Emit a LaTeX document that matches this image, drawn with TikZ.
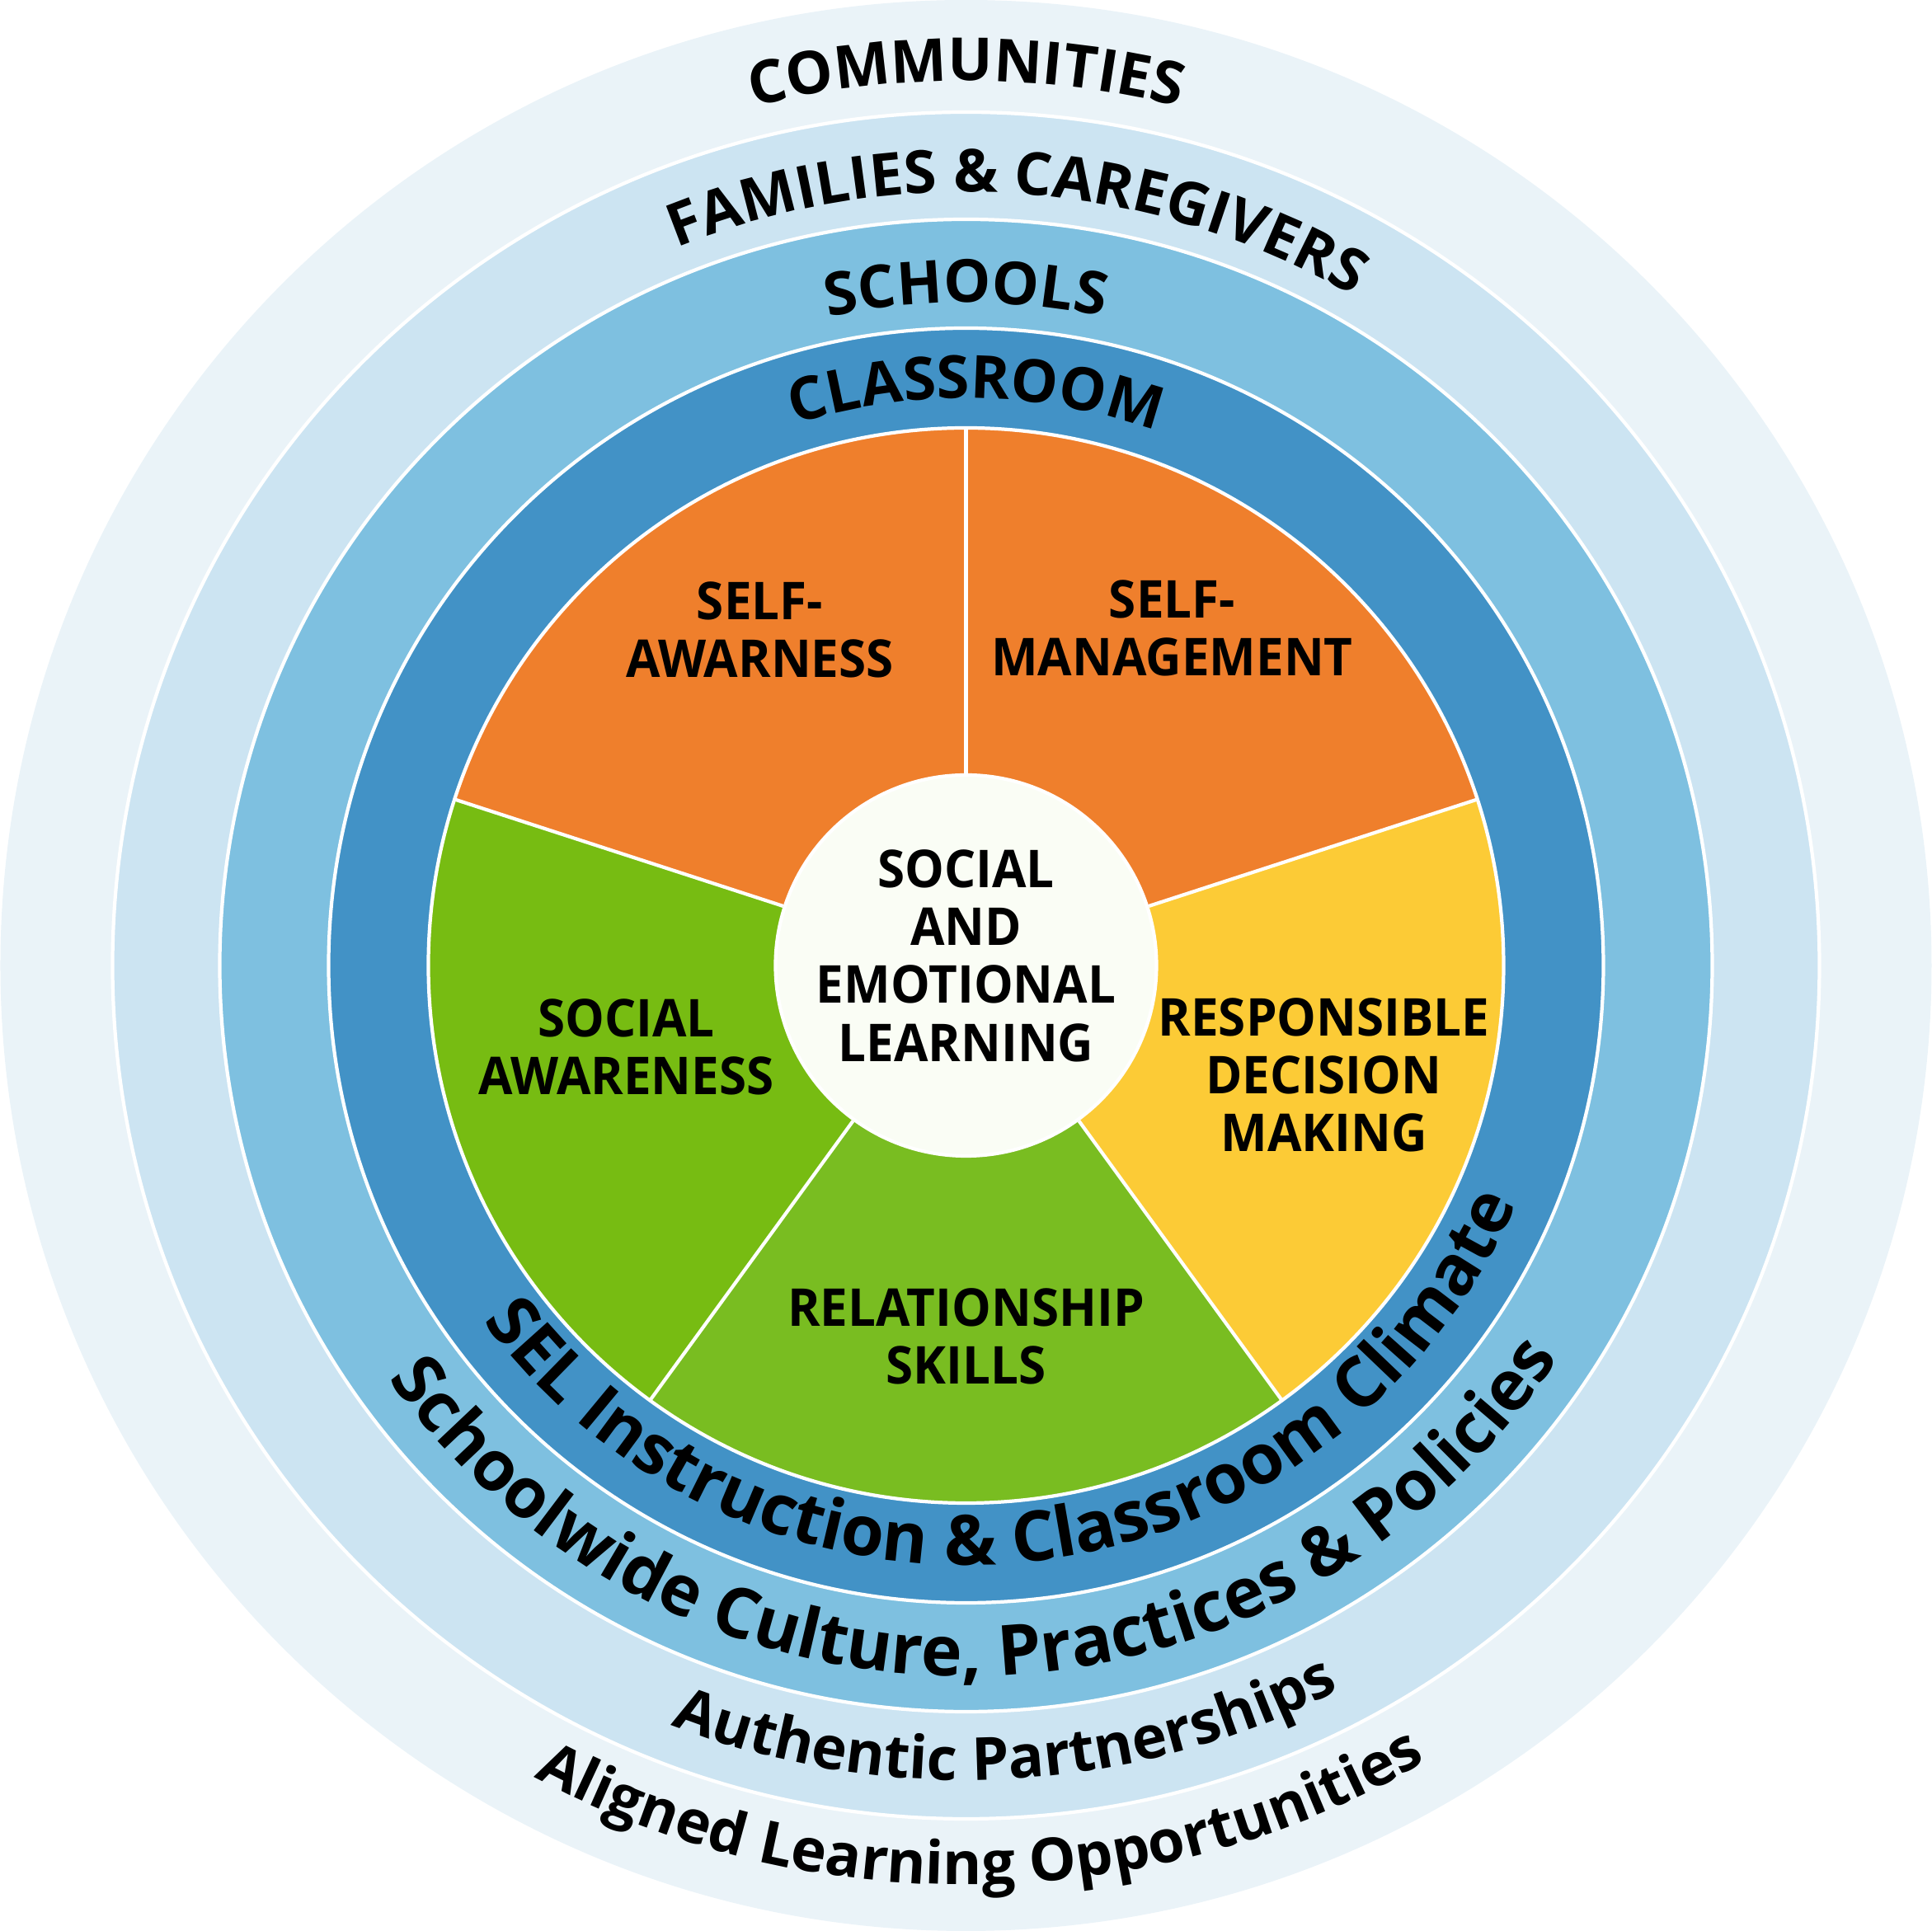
\documentclass[tikz,border=0pt]{standalone}
\usepackage{fontspec}
\setmainfont{Open Sans}
\newfontfamily\sectorfont{Open Sans}[FakeStretch=0.95]
\usetikzlibrary{decorations.text}

\definecolor{community}{HTML}{EAF3F8}
\definecolor{family}{HTML}{CCE4F2}
\definecolor{school}{HTML}{7EC0E0}
\definecolor{classroom}{HTML}{4292C6}
\definecolor{selforange}{HTML}{EF7F2C}
\definecolor{decisionyellow}{HTML}{FCCB36}
\definecolor{socialgreen}{HTML}{77BC12}
\definecolor{relationgreen}{HTML}{79BD21}
\definecolor{core}{HTML}{FAFDF5}

\newcommand{\ringfont}{\fontsize{20.5}{21}\selectfont\bfseries}
\newcommand{\bigringfont}{\fontsize{24}{24}\selectfont\bfseries}

\begin{document}
\begin{tikzpicture}
        \tikzstyle{ring}=[draw=white, line width=1.2pt]
        \tikzstyle{sector}=[font=\sectorfont\fontsize{18}{20}\selectfont\bfseries, align=center, inner sep=0pt]
        \tikzstyle{ringtext}=[decorate, decoration={text along path, text align=center}]

        \useasboundingbox (-11.715,-11.71) rectangle (11.715,11.71);

        % rings
        \fill[community] (0,0) circle (11.71);
        \path[ring, fill=family] (0,0) circle (10.35);
        \path[ring, fill=school] (0,0) circle (9.05);
        \path[ring, fill=classroom] (0,0) circle (7.73);

        % wheel
        \foreach \a/\col in {90/selforange, 18/selforange, -54/decisionyellow, -126/relationgreen, 162/socialgreen}
          \fill[\col] (0,0) -- (\a:6.52) arc[start angle=\a, delta angle=72, radius=6.52] -- cycle;
        \path[ring] (0,0) circle (6.52);

        \node[circle, fill=core, draw=white, line width=1.2pt, minimum size=4.62cm, inner sep=0pt] (sel) at (0,0) {};
        \foreach \a in {90,18,-54,-126,162}
          \draw[white, line width=1.2pt] (sel.\a) -- (\a:6.52);

        % labels
        \node [sector] (seltext) at (0,0.12) {SOCIAL\\AND\\EMOTIONAL\\LEARNING};
        \node [sector] (selfaware) at (-2.50,4.07) {SELF-\\AWARNESS};
        \node [sector] (selfmanage) at (2.50,4.09) {SELF-\\MANAGEMENT};
        \node [sector] (decision) at (4.34,-1.33) {RESPONSIBLE\\DECISION\\MAKING};
        \node [sector] (relation) at (0,-4.50) {RELATIONSHIP\\SKILLS};
        \node [sector] (socialaware) at (-4.12,-0.99) {SOCIAL\\AWARENESS};

        % ring texts, top
        \path[ringtext, decoration={text={|\ringfont|COMMUNITIES}}] (180:10.73) arc[start angle=180, end angle=0, radius=10.73];
        \path[ringtext, decoration={text={|\ringfont|FAMILIES {\&} CAREGIVERS}}] (176:9.38) arc[start angle=176, end angle=-4, radius=9.38];
        \path[ringtext, decoration={text={|\ringfont|SCHOOLS}}] (180:8.04) arc[start angle=180, end angle=0, radius=8.04];
        \path[ringtext, decoration={text={|\ringfont|CLASSROOM}}] (179:6.88) arc[start angle=179, end angle=-1, radius=6.88];

        % ring texts, bottom
        \path[ringtext, decoration={text={|\bigringfont|SEL Instruction {\&} Classroom Climate}}] (186.5:7.27) arc[start angle=186.5, end angle=366.5, radius=7.27];
        \path[ringtext, decoration={text={|\bigringfont|Schoolwide Culture, Practices {\&} Policies}}] (181:8.62) arc[start angle=181, end angle=361, radius=8.62];
        \path[ringtext, decoration={text={|\ringfont|Authentic Partnerships}}] (183:9.88) arc[start angle=183, end angle=363, radius=9.88];
        \path[ringtext, decoration={text={|\ringfont|Aligned Learning Opportunities}}] (181:11.15) arc[start angle=181, end angle=361, radius=11.15];
\end{tikzpicture}
\end{document}
